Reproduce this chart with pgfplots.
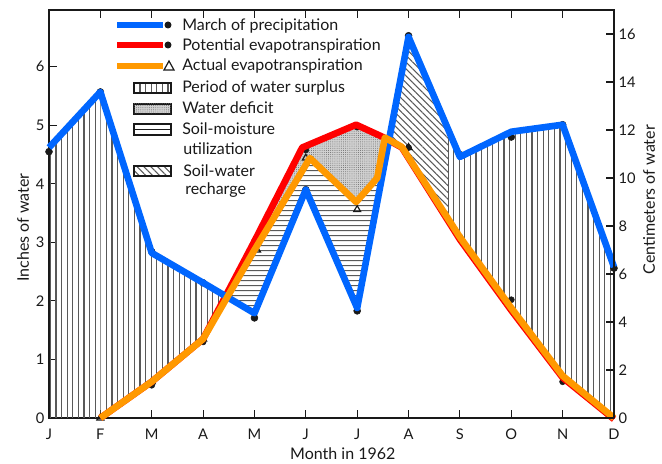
\documentclass[border=0pt]{standalone}
\usepackage{fontspec}
\setmainfont{Lato}
\usepackage{pgfplots}
\usepackage{pgfplotstable}
\pgfplotsset{compat=1.18}
\usepgfplotslibrary{fillbetween}
\usetikzlibrary{patterns.meta}

\definecolor{precip}{RGB}{0,102,255}
\definecolor{potev}{RGB}{255,0,0}
\definecolor{actev}{RGB}{255,153,0}
\definecolor{ink}{RGB}{25,25,25}

% month index (0 = J) and inches of water, as traced by the coloured lines
\pgfplotstableread{
m   v
0   4.62
1   5.57
2   2.82
3   2.31
4   1.79
5   3.90
6   1.88
7   6.51
8   4.46
9   4.89
10  5.01
11  2.58
}\tabP

\pgfplotstableread{
m     v
1     0
2     0.62
3     1.35
4     3.02
4.93  4.62
5.98  5.01
6.5   4.80
6.87  4.62
8     3.05
9     1.84
10    0.69
11    -0.02
}\tabPE

\pgfplotstableread{
m     v
1     0
2     0.62
3     1.35
4     2.87
5.08  4.44
5.98  3.69
6.39  4.10
6.54  4.79
6.87  4.63
8     3.09
9     1.88
10    0.72
11    0
}\tabAE

% the printed markers of the original chart
\pgfplotstableread{
m   v
0   4.55
1   5.57
2   2.84
3   2.31
4   1.71
5   3.90
6   1.83
7   6.53
8   4.50
9   4.80
10  5.01
11  2.56
}\dotP

\pgfplotstableread{
m   v
2   0.56
3   1.30
4   3.02
5   4.58
6   4.97
7   4.62
8   3.09
9   2.02
10  0.62
}\dotPE

\pgfplotstableread{
m     v
1     0
2     0.62
3     1.35
4.05  2.87
5     4.44
6     3.56
7     4.62
}\dotAE

\tikzset{
  hatch/.style={pattern color=black!65},
  surplus/.style={hatch, pattern={Lines[angle=90,distance=4.2pt,line width=0.8pt]}},
  utilize/.style={hatch, pattern={Lines[angle=0,distance=4pt,line width=0.8pt]}},
  recharge/.style={hatch, pattern={Lines[angle=-45,distance=3.6pt,line width=0.8pt]}},
  deficit/.style={fill=black!18, postaction={pattern={Dots[distance=1.6pt,radius=0.35pt]}, pattern color=black!60}},
}

\begin{document}
\begin{tikzpicture}
\pgfplotsset{
  every tick label/.append style={font=\fontsize{11}{13}\selectfont, text=ink},
  every axis label/.append style={font=\fontsize{12}{14}\selectfont, text=ink},
}
\begin{axis}[
  at={(36.75pt,34.5pt)}, anchor=south west,
  scale only axis, width=423.75pt, height=306pt,
  xmin=0, xmax=11, ymin=0, ymax=6.97,
  xtick={0,...,11},
  xticklabels={J,F,M,A,M,J,J,A,S,O,N,D},
  ytick={0,...,6},
  xtick pos=both, ytick pos=left,
  major tick length=6pt,
  tick style={ink, line width=0.8pt},
  axis line style={ink, line width=1.1pt},
  xticklabel style={yshift=-5pt},
  /pgf/number format/assume math mode=true,
  xlabel={Month in 1962},
  xlabel style={at={(axis description cs:0.52,-0.088)}, anchor=center},
  ylabel={Inches of water},
  ylabel style={at={(axis description cs:-0.046,0.467)}, anchor=center},
  clip=false,
  clip marker paths=true,
]
\addplot[draw=none, name path=P, forget plot] table[x=m, y=v] {\tabP};
\addplot[draw=none, name path=PE, forget plot] table[x=m, y=v] {\tabPE};
\addplot[draw=none, name path=AE, forget plot] table[x=m, y=v] {\tabAE};
\addplot[draw=none, name path=base, forget plot] coordinates {(0,0) (11,0)};

% period of water surplus
\addplot[surplus, forget plot] fill between[of=P and base, soft clip={domain=0:1}];
\addplot[surplus, forget plot] fill between[of=P and AE, soft clip={domain=1:3.47}];
% soil-moisture utilization
\addplot[utilize, forget plot] fill between[of=P and AE, soft clip={domain=3.47:6.62}];
% water deficit
\addplot[deficit, forget plot] fill between[of=PE and AE, soft clip={domain=4:6.62}];
% soil-water recharge
\addplot[recharge, forget plot] fill between[of=P and AE, soft clip={domain=6.62:7.77}];
% surplus again
\addplot[surplus, forget plot] fill between[of=P and AE, soft clip={domain=7.77:11}];

% original black markers, mostly hidden under the coloured lines
\addplot[only marks, mark=*, mark size=2.6pt, ink, forget plot] table[x=m, y=v] {\dotP};
\addplot[only marks, mark=*, mark size=2.3pt, ink, forget plot] table[x=m, y=v] {\dotPE};
\addplot[only marks, mark=triangle, mark size=3pt, ink, line width=0.9pt, forget plot] table[x=m, y=v] {\dotAE};

\addplot[potev, line width=5pt, line join=round, forget plot] table[x=m, y=v] {\tabPE};
\addplot[precip, line width=5pt, line join=round, forget plot] table[x=m, y=v] {\tabP};
\addplot[actev, line width=5pt, line join=round, forget plot] table[x=m, y=v] {\tabAE};
\end{axis}

\begin{axis}[
  at={(36.75pt,34.5pt)}, anchor=south west,
  scale only axis, width=423.75pt, height=306pt,
  xmin=0, xmax=11, ymin=0, ymax=17,
  axis x line=none, axis y line*=right,
  ytick={0,2,...,16},
  major tick length=6pt,
  tick style={ink, line width=0.8pt},
  axis line style={ink, line width=1.1pt},
  /pgf/number format/assume math mode=true,
  ylabel={Centimeters of water},
  ylabel style={at={(axis description cs:1.062,0.535)}, anchor=center},
]
\addplot[draw=none] coordinates {(0,0) (11,17)};
\end{axis}

% legend, in pixel units of the reference
\begin{scope}[x=0.75pt, y=-0.75pt, yshift=348pt, font=\fontsize{12}{14}\selectfont]
\draw[precip, line width=5pt] (117,25) -- (163,25);
\fill[ink] (168,25) circle[radius=3.5];
\draw[potev, line width=5pt] (117,45) -- (163,45);
\fill[ink] (168,45) circle[radius=3.5];
\draw[actev, line width=5pt] (117,66) -- (163,66);
\draw[ink, line width=0.9pt] (164,70) -- (174,70) -- (169,61) -- cycle;
\draw[ink, line width=1.3pt, surplus] (134,83) rectangle (171,93);
\draw[ink, line width=1.3pt, deficit] (134,104) rectangle (171,114);
\draw[ink, line width=1.3pt] (134,124) rectangle (171,135);
\draw[ink, line width=1pt] (134,129.5) -- (171,129.5);
\draw[ink, line width=1.3pt, recharge] (134,166) rectangle (171,176);
\begin{scope}[every node/.style={anchor=base west, inner sep=0pt, text=ink}]
\node at (182,31) {March of precipitation};
\node at (182,51) {Potential evapotranspiration};
\node at (182,71) {Actual evapotranspiration};
\node at (182,93) {Period of water surplus};
\node at (182,114) {Water deficit};
\node at (182,135) {Soil-moisture};
\node at (183,155) {utilization};
\node at (183,177) {Soil-water};
\node at (185,195) {recharge};
\end{scope}
\end{scope}
\pgfresetboundingbox
\path[use as bounding box] (0,0) rectangle (496.5pt,348pt);
\end{tikzpicture}
\end{document}
